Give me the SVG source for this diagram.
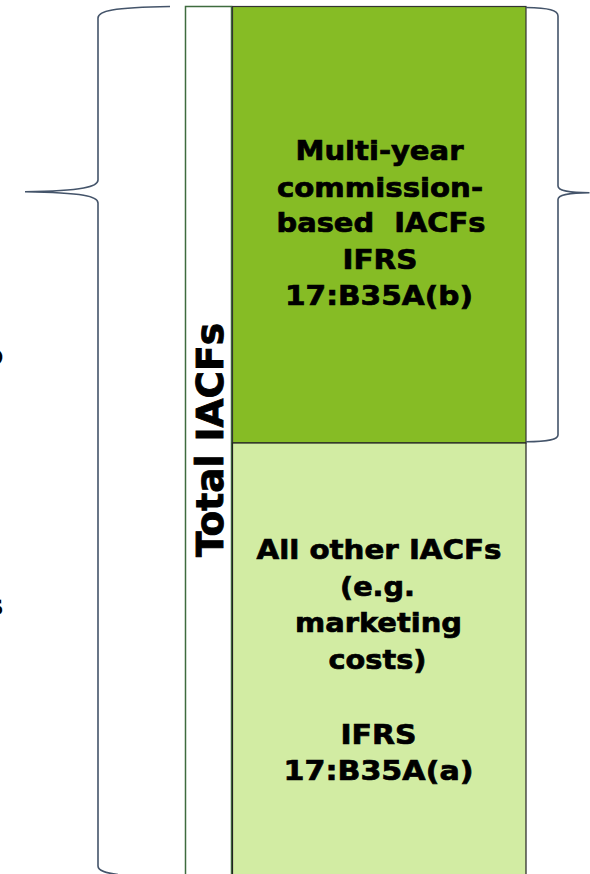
<svg xmlns="http://www.w3.org/2000/svg" width="590" height="874" viewBox="0 0 590 874">
<style>
.lbl{font-family:"DejaVu Sans","Liberation Sans",sans-serif;font-weight:bold;font-size:27px;fill:#000;stroke:#000;stroke-width:0.7;text-anchor:middle}
.brace{fill:none;stroke:#44546a;stroke-width:1.6}
.frag{font-family:"DejaVu Sans","Liberation Sans",sans-serif;font-weight:bold;font-size:28px;fill:#000;text-anchor:end}
</style>
<rect width="590" height="874" fill="#ffffff"/>
<text class="frag" x="3.5" y="365">o</text>
<text class="frag" x="3.5" y="615">s</text>
<g id="total-iacfs">
<rect x="185.5" y="6.5" width="46" height="880" fill="#ffffff" stroke="#3f6b3f" stroke-width="1.5"/>
<text transform="translate(223,557) rotate(-90)" font-family="DejaVu Sans, Liberation Sans, sans-serif" font-weight="bold" font-size="37" stroke="#000" stroke-width="0.9" textLength="234" lengthAdjust="spacingAndGlyphs">Total IACFs</text>
</g>
<g id="multi-year">
<rect x="232.5" y="6.5" width="293.5" height="436.5" fill="#86bc25" stroke="#333333" stroke-width="1.2"/>
<text class="lbl" x="379.5" y="159.5" textLength="168" lengthAdjust="spacingAndGlyphs">Multi-year</text>
<text class="lbl" x="380" y="196.5" textLength="206" lengthAdjust="spacingAndGlyphs">commission-</text>
<text class="lbl" x="381" y="232" textLength="209" lengthAdjust="spacingAndGlyphs" xml:space="preserve">based  IACFs</text>
<text class="lbl" x="380" y="268.5" textLength="75" lengthAdjust="spacingAndGlyphs">IFRS</text>
<text class="lbl" x="379" y="305" textLength="188" lengthAdjust="spacingAndGlyphs">17:B35A(b)</text>
</g>
<g id="all-other">
<rect x="232.5" y="443" width="293.5" height="440" fill="#d2eca3" stroke="#222222" stroke-width="1.2"/>
<text class="lbl" x="379" y="558.5" textLength="245" lengthAdjust="spacingAndGlyphs">All other IACFs</text>
<text class="lbl" x="377.5" y="595.5" textLength="75" lengthAdjust="spacingAndGlyphs">(e.g.</text>
<text class="lbl" x="378.5" y="632" textLength="167" lengthAdjust="spacingAndGlyphs">marketing</text>
<text class="lbl" x="377.5" y="668.5" textLength="98" lengthAdjust="spacingAndGlyphs">costs)</text>
<text class="lbl" x="378.5" y="743.5" textLength="76" lengthAdjust="spacingAndGlyphs">IFRS</text>
<text class="lbl" x="378.5" y="780" textLength="190" lengthAdjust="spacingAndGlyphs">17:B35A(a)</text>
</g>
<g id="connectors">
<path class="brace" d="M170,6.5 C112,7.5 98,11 98,18 L98,180 C98,186.5 84,191 25,191.7 C84,192.5 98,196.5 98,203 L98,866 C98,871 106,873 118,874.5"/>
<path class="brace" d="M526,7.5 C549,8 558,10 558,16 L558,186 C558,190.5 567,192.5 589.5,192.7 C567,193 558,195 558,199.5 L558,435 C558,439.5 549,441.5 526,441.8"/>
</g>
</svg>
